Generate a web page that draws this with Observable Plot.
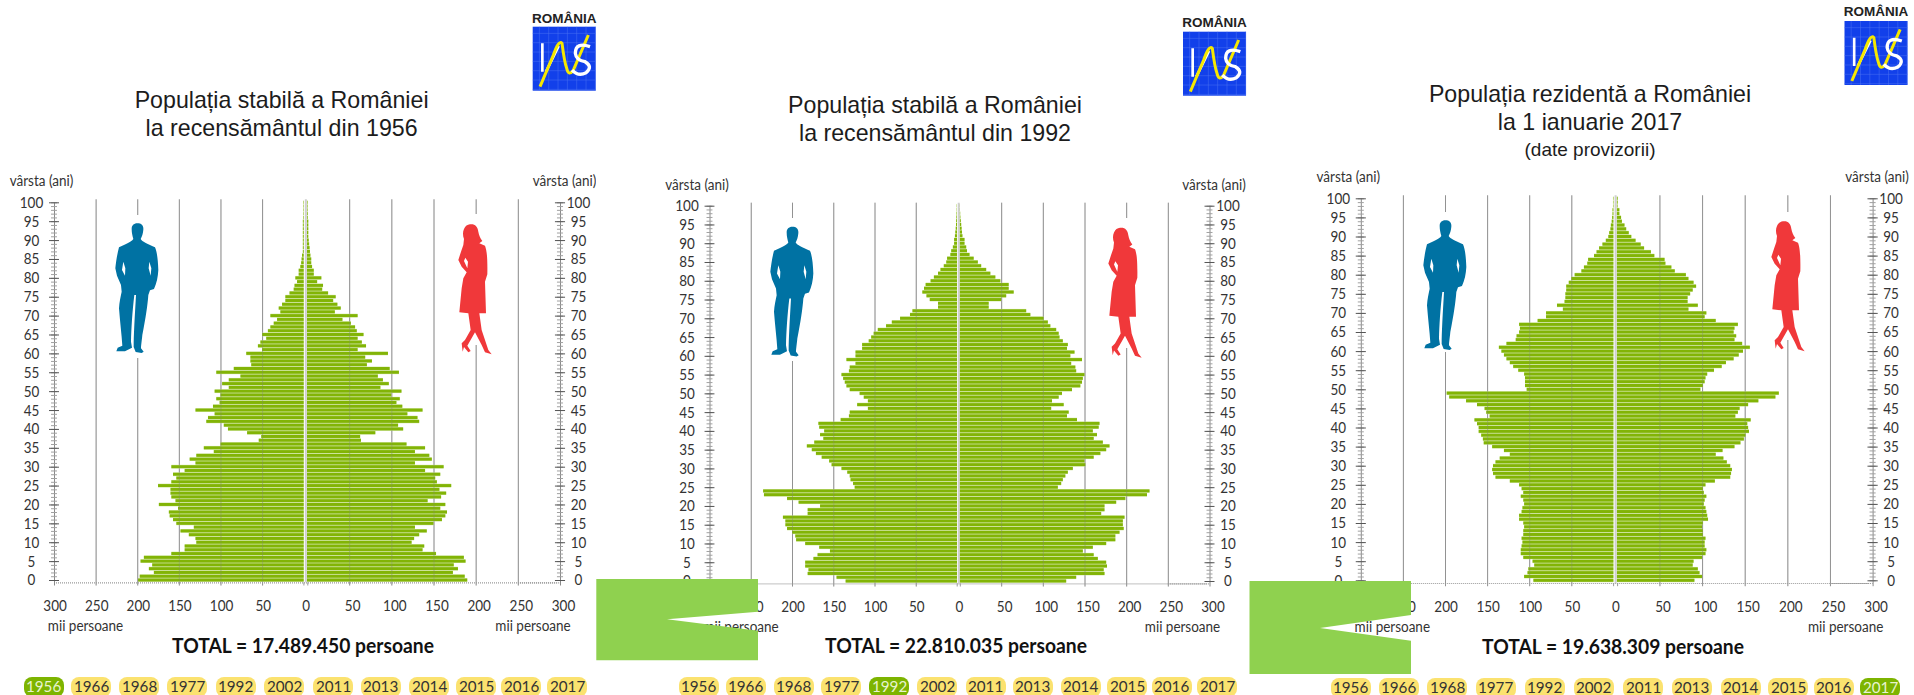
<!DOCTYPE html>
<html lang="ro">
<head>
<meta charset="utf-8">
<script src="https://cdn.jsdelivr.net/npm/d3@7"></script>
<script src="https://cdn.jsdelivr.net/npm/@observablehq/plot@0.6"></script>
<style>
html,body{margin:0;padding:0;background:#fff;width:1914px;height:695px;overflow:hidden}
#stage{position:relative;width:1914px;height:695px;overflow:hidden;background:#fff}
.t{position:absolute;white-space:nowrap;transform:translate(-50%,-50%);text-align:center;line-height:1.1}
.title{font-family:"Liberation Sans",Arial,sans-serif;font-size:23.2px;color:#1c1c1c}
.sub{font-family:"Liberation Sans",Arial,sans-serif;font-size:19px;color:#1c1c1c}
.total{font-family:Lato,"Liberation Sans",sans-serif;font-weight:700;font-size:20.5px;color:#111;transform:translate(-50%,-50%) scaleX(.94)}
.pill{position:absolute;height:20px;width:40px;border-radius:8px;background:#fbe26f;color:#333;text-align:center}
.pill span{display:inline-block;font-family:Lato,"Liberation Sans",sans-serif;font-size:16px;line-height:18px;transform:scaleX(.95)}
.pill.on{background:#7db400;color:#e8f3cf}
svg.deco{position:absolute;left:0;top:0;pointer-events:none}
</style>
</head>
<body>
<div id="stage"></div>
<script>
const ages = d3.range(0, 101);
const ageTicks = [0,5,10,15,20,25,30,35,40,45,50,55,60,65,70,75,80,85,90,95,100];
const popTicks = [50,100,150,200,250,300];
const years = [1956,1966,1968,1977,1992,2002,2011,2013,2014,2015,2016,2017];

const male1956 = [199,197,180,186,182,196,192,159,143,143,129,130,138,148,132,153,157,161,162,151,174,154,159,160,160,175,159,153,157,143,159,130,137,129,108,120,100,54,51,68,91,96,117,115,107,130,109,101,105,100,107,90,98,90,76,105,84,63,64,64,69,50,55,52,45,50,43,40,36,32,40,28,30,26,22,22,17,12,11,8,10,6,6,4,3,2.5,2,1,1,1,1,1,1,1,1,1,.6,.5,.5,.5,.5];
const female1956 = [190,187,173,179,174,188,186,153,137,139,124,127,133,142,128,150,160,164,166,158,164,143,159,165,157,171,154,152,158,140,162,128,148,145,128,140,118,64,63,81,114,108,133,131,119,137,113,106,110,100,112,87,97,90,84,109,98,71,77,69,96,60,70,65,60,67,59,57,52,42,60,33,40,36,31,34,25,18,19,12,17,8,8,6,5,5,4,3.5,3,2.5,2,1.5,1.5,1.5,1.5,1.5,.8,.8,.6,.6,.6];
const male1992 = [135,146,181,180,184,184,174,169,154,167,184,195,196,200,206,208,208,211,181,181,166,192,206,234,235,124,126,129,130,133,140,152,155,164,171,176,182,173,162,166,161,167,168,141,131,130,108,121,108,113,118,130,134,136,138,140,131,130,123,134,123,123,115,115,107,104,101,96,86,79,69,57,54,23,23,33,37,42,40,38,32,28,23,20,16,13,12,8,7,5,3.5,3.5,2.5,2,1.5,1.2,1,.7,.5,.3,.3];
const female1992 = [128,140,174,173,177,176,166,161,148,160,176,187,187,192,197,196,196,198,170,174,174,188,199,225,228,118,122,124,127,130,136,151,150,161,169,176,180,172,161,165,160,167,168,141,129,131,110,125,111,119,123,135,145,147,148,150,140,139,134,147,133,138,129,130,124,120,119,116,109,106,101,85,80,35,35,50,56,65,59,59,49,43,37,32,26,22,17,12,9,8,6,6,3.5,3,2.5,2,1.5,1,.8,.5,.4];
const male2017 = [95,106,102,101,94,96,107,110,110,109,108,109,107,107,106,107,112,112,109,108,106,107,110,107,109,112,123,140,143,144,143,140,135,123,130,144,154,155,157,160,160,162,165,147,151,153,162,175,195,198,103,105,105,105,106,113,119,123,127,130,133,136,127,116,115,112,111,112,90,80,80,60,67,58,57,57,56,56,53,50,46,38,35,31,30,23,20,17,13,9,6,5,3.5,3,2,1.5,1,1,.5,.5,.5];
const female2017 = [91,100,97,95,89,90,100,104,105,103,103,104,101,101,100,101,107,106,105,104,102,103,105,102,101,104,115,133,134,135,133,129,125,116,124,138,145,149,151,155,154,153,157,139,142,144,154,166,186,190,98,101,103,104,106,114,123,128,137,143,148,156,147,138,140,137,138,142,116,103,105,84,95,83,83,86,89,93,90,84,81,68,64,57,56,44,40,32,28,22,17,14,11,9,6,5,3,3,.8,1,1];

const panels = [
 {year:1956, male:male1956, female:female1956, clip:[9,596], L:54, zL:303.7, zR:307, R:560, y0:580, y100:202.3, base:582.3,
  cx:281.6, tY:[101,129], title:["Populația stabilă a României","la recensământul din 1956"], total:"TOTAL = 17.489.450 persoane", totX:303, totY:644.7,
  ageY:181, pillX:23.7, pillStep:1, pillTop:677, logo:[532.7,26.7], logoTextY:18,
  manX:113, manY:216, womanX:450, womanY:215, boxM:[215,358], boxW:[214,345]},
 {year:1992, male:male1992, female:female1992, clip:[662,1248], L:709.5, zL:957, zR:959.5, R:1209.5, y0:581, y100:205.7, base:583.3,
  cx:935, tY:[106,134], title:["Populația stabilă a României","la recensământul din 1992"], total:"TOTAL = 22.810.035 persoane", totX:956, totY:645,
  ageY:185, pillX:679, pillStep:.99, pillTop:677, logo:[1183,31.7], logoTextY:22,
  manX:768, manY:219.5, womanX:1100, womanY:218.5, boxM:[218,361], boxW:[218,348]},
 {year:2017, male:male2017, female:female2017, clip:[1311,1914], L:1360.8, zL:1613.4, zR:1616.8, R:1872.6, y0:580.3, y100:198.3, base:583,
  cx:1590, tY:[95,123], title:["Populația rezidentă a României","la 1 ianuarie 2017"], sub:"(date provizorii)", subY:150, total:"TOTAL = 19.638.309 persoane", totX:1613, totY:645.7,
  ageY:176.7, pillX:1330.5, pillStep:1.012, pillTop:678, logo:[1844.5,21], logoTextY:11,
  manX:1421, manY:213, womanX:1763, womanY:212, boxM:[212,352], boxW:[212,340]}
];
const pillOffsets = [0,47.5,95.5,143.5,192,240.5,289.5,337,385.5,432.5,477.5,523.5];

const uiFont = 'Lato,"Liberation Sans",sans-serif';
const MAN = "M97 25C110 25 116 32 115 44C114 56 111 64 107 72C112 80 125 86 150 97C156 110 159 135 160 165C159 185 155 205 147 222L135 226L130 240C128 270 122 310 112 360C110 380 108 392 108 400L116 410L110 414L92 411L86 396C86 360 89 310 93 240L88 240C82 290 79 340 78 380L81 398L60 409L34 409L38 398L52 392C50 360 45 320 42 280C43 260 47 245 50 230L48 210L36 182L31 160C33 140 37 115 42 97C60 88 78 82 85 72C83 64 80 55 80 42C80 32 86 25 97 25Z M55 140L51 165L60 182L61 160Z M133 140L131 160L137 182L139 160Z";
const WOMAN = "M60 28C74 26 83 34 85 50C87 60 90 68 97 78L88 85L105 92C110 105 113 125 112 178L105 200L108 295L88 295L95 345L115 405L125 418L105 412L95 390L75 352L52 392L62 408L55 412L42 396L38 410L35 385L45 375L62 345L55 295L28 292L35 220L40 190L50 172L35 155L25 135L33 110L40 90L42 72C38 62 38 50 42 42C46 33 52 29 60 28Z M46 128L42 138L52 160L54 140Z";

const stage = document.getElementById("stage");

function addText(cls, text, x, y){
  const d = document.createElement("div");
  d.className = "t " + cls; d.textContent = text;
  d.style.left = x + "px"; d.style.top = y + "px";
  stage.appendChild(d);
}

panels.forEach(p => {
  const ox = p.clip[0];
  const gap = p.zR - p.zL;
  const rows = ages.map((a,i) => ({age:a, m:p.male[i], f:p.female[i]}));
  const grid = popTicks.filter(d => d < 300);
  const pxY = v => (p.y0 - v) / ((p.y0 - p.y100) / 100); // pixel → age units
  const baseAge = pxY(p.base), gridEnd = pxY(p.base + 3.2), gridTop = pxY(p.y100 - 3);
  const barH = 0.39, backH = 0.5;
  const size = 15.5;

  const plot = Plot.plot({
    width: p.clip[1] - p.clip[0], height: 695,
    marginLeft: 0, marginRight: 0, marginTop: 0, marginBottom: 0,
    style: {background:"transparent", position:"absolute", left: ox + "px", top:"0px", overflow:"hidden", maxWidth:"none", fontFamily:uiFont},
    x: {type:"linear", domain:[-300,0,300], range:[p.L-ox, p.zL-ox, p.R-gap-ox], axis:null},
    y: {domain:[0,100], range:[p.y0, p.y100], axis:null},
    marks: [
      // gridlines
      Plot.ruleX(grid,{x:d=>-d, y1:gridEnd, y2:gridTop, stroke:"#9a9a9a", strokeWidth:1}),
      Plot.ruleX(grid,{x:d=>d, y1:gridEnd, y2:gridTop, stroke:"#9a9a9a", strokeWidth:1, dx:gap}),
      // pale halo then bars
      Plot.rectX(rows,{x1:0, x2:d=>-d.m, y1:d=>d.age-backH, y2:d=>d.age+backH, fill:"#cfe5a0"}),
      Plot.rectX(rows,{x1:0, x2:d=>d.f, y1:d=>d.age-backH, y2:d=>d.age+backH, fill:"#cfe5a0", dx:gap}),
      Plot.rectX(rows,{x1:0, x2:d=>-d.m, y1:d=>d.age-barH, y2:d=>d.age+barH, fill:"#82b406"}),
      Plot.rectX(rows,{x1:0, x2:d=>d.f, y1:d=>d.age-barH, y2:d=>d.age+barH, fill:"#82b406", dx:gap}),
      // gridlines faintly showing through the bars
      Plot.ruleX(grid,{x:d=>-d, y1:gridEnd, y2:gridTop, stroke:"#808080", strokeOpacity:.3, strokeWidth:1}),
      Plot.ruleX(grid,{x:d=>d, y1:gridEnd, y2:gridTop, stroke:"#808080", strokeOpacity:.3, strokeWidth:1, dx:gap}),
      // central strip
      Plot.ruleX([0],{y1:baseAge, y2:gridTop, stroke:"#cfcfcf", strokeWidth:2, dx:gap/2}),
      Plot.ruleX([0],{y1:gridEnd, y2:baseAge, stroke:"#9a9a9a", strokeWidth:1, dx:-.3}),
      Plot.ruleX([0],{y1:gridEnd, y2:baseAge, stroke:"#9a9a9a", strokeWidth:1, dx:gap+.3}),
      // baseline
      Plot.ruleY([baseAge],{x1:-300, x2:300, stroke:"#9a9a9a", strokeWidth:1.2, strokeDasharray:"1 1"}),
      Plot.ruleY([baseAge],{x1:250, x2:300, dx:gap, stroke:"#9a9a9a", strokeWidth:1.2, strokeDasharray:"1 1"}),
      // age axes
      Plot.ruleX([-300],{y1:gridEnd, y2:100, stroke:"#8a8a8a"}),
      Plot.ruleX([300],{y1:gridEnd, y2:100, stroke:"#8a8a8a", dx:gap}),
      Plot.ruleY(ages,{y:d=>d, x1:-303.6, x2:-296.4, stroke:"#a0a0a0"}),
      Plot.ruleY(ages,{y:d=>d, x1:296.4, x2:303.6, dx:gap, stroke:"#a0a0a0"}),
      Plot.ruleY(ageTicks,{y:d=>d, x1:-306, x2:-294, stroke:"#555"}),
      Plot.ruleY(ageTicks,{y:d=>d, x1:294, x2:306, dx:gap, stroke:"#555"}),
      Plot.text(ageTicks,{x:-300, y:d=>d, text:d=>String(d), dx:-23, fontSize:size, fill:"#333", textAnchor:"middle"}),
      Plot.text(ageTicks,{x:300, y:d=>d, text:d=>String(d), dx:gap+18, fontSize:size, fill:"#333", textAnchor:"middle"}),
      // population labels
      Plot.text(popTicks,{x:d=>-d, y:0, dy:26, text:d=>String(d), fontSize:size, fill:"#333", dx:.6}),
      Plot.text(popTicks,{x:d=>d, y:0, dy:26, text:d=>String(d), fontSize:size, fill:"#333", dx:gap+3}),
      Plot.text([0],{x:0, y:0, dy:26, text:d=>String(d), fontSize:size, fill:"#333", dx:2}),
      // captions
      Plot.text(["mii persoane"],{x:-300, y:0, dy:46, dx:31, text:d=>d, fontSize:size, fill:"#333"}),
      Plot.text(["mii persoane"],{x:300, y:0, dy:46, dx:gap-27.5, text:d=>d, fontSize:size, fill:"#333"}),
      Plot.text(["vârsta (ani)"],{x:-300, y:0, dy:p.ageY-p.y0, dx:-13, text:d=>d, fontSize:size, fill:"#333"}),
      Plot.text(["vârsta (ani)"],{x:300, y:0, dy:p.ageY-p.y0, dx:gap+4, text:d=>d, fontSize:size, fill:"#333"})
    ]
  });
  stage.appendChild(plot);
  // the original lettering is a condensed face: squeeze the real text
  d3.select(plot).selectAll("text").each(function(){
    this.setAttribute("lengthAdjust","spacingAndGlyphs");
    this.setAttribute("textLength", (this.getComputedTextLength()*0.87).toFixed(1));
  });

  // silhouettes and logo
  const svg = d3.select(stage).append("svg").attr("class","deco").attr("width",1914).attr("height",695);
  svg.append("rect").attr("x",p.manX+5).attr("y",p.boxM[0]).attr("width",44).attr("height",p.boxM[1]-p.boxM[0]).attr("fill","#fff");
  svg.append("rect").attr("x",p.womanX+5).attr("y",p.boxW[0]).attr("width",34).attr("height",p.boxW[1]-p.boxW[0]).attr("fill","#fff");
  svg.append("path").attr("d",MAN).attr("fill-rule","evenodd").attr("fill","#0072a3").attr("transform",`translate(${p.manX-8},${p.manY-1}) scale(.3333)`);
  svg.append("path").attr("d",WOMAN).attr("fill-rule","evenodd").attr("fill","#f0383a").attr("transform",`translate(${p.womanX},${p.womanY}) scale(.3333)`);

  const [lx,ly] = p.logo;
  const g = svg.append("g").attr("transform",`translate(${lx},${ly}) scale(.3333)`);
  g.append("rect").attr("width",189).attr("height",192).attr("fill","#1240ea");
  d3.range(20,190,28).forEach(v=>{
    g.append("line").attr("x1",v).attr("x2",v).attr("y1",0).attr("y2",192).attr("stroke","#4a72f2").attr("stroke-width",1.5);
    g.append("line").attr("y1",v).attr("y2",v).attr("x1",0).attr("x2",189).attr("stroke","#4a72f2").attr("stroke-width",1.5);
  });
  g.append("path").attr("d","M29 50L29 135M40 135L78 58").attr("fill","none").attr("stroke","#fff").attr("stroke-width",8);
  g.append("path").attr("d","M22 180L62 85Q78 38 88 50Q95 105 102 125Q108 150 122 130L167 25").attr("fill","none").attr("stroke","#f6e800").attr("stroke-width",9);
  g.append("path").attr("d","M172 60Q128 45 128 80Q130 100 157 105Q182 120 160 138Q137 150 118 130").attr("fill","none").attr("stroke","#fff").attr("stroke-width",10);
  svg.append("text").attr("x",lx+31.5).attr("y",p.logoTextY).attr("dy","0.36em").attr("text-anchor","middle")
     .attr("font-family",'"Liberation Sans",Arial,sans-serif').attr("font-weight",700).attr("font-size",13.5).attr("fill","#222").text("ROMÂNIA");

  // titles
  p.title.forEach((s,i)=> addText("title", s, p.cx, p.tY[i]));
  if (p.sub) addText("sub", p.sub, p.cx, p.subY);
  addText("total", p.total, p.totX, p.totY);

  // year pills
  years.forEach((y,i)=>{
    const d = document.createElement("div");
    d.className = "pill" + (y===p.year ? " on" : "");
    const s = document.createElement("span"); s.textContent = y; d.appendChild(s);
    d.style.left = (p.pillX + pillOffsets[i]*p.pillStep) + "px";
    d.style.top = p.pillTop + "px";
    stage.appendChild(d);
  });
});

// stray green shapes of the original graphic
const over = d3.select(stage).append("svg").attr("class","deco").attr("width",1914).attr("height",695);
over.append("path").attr("fill","#8fd14f").attr("d","M596.3 579H758V611.7L667 619.3L758 630.7V660.3H596.3Z");
over.append("path").attr("fill","#8fd14f").attr("d","M1249.5 581H1411V615L1320 628L1411 640.7V674H1249.5Z");
</script>
</body>
</html>
